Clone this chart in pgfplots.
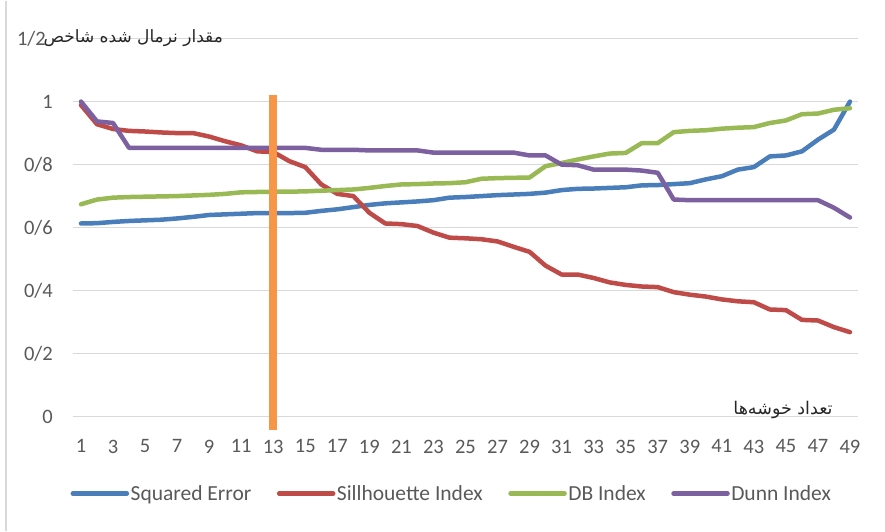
\documentclass[border=0pt]{standalone}
\usepackage{fontspec}
\setmainfont{Carlito}
\newfontfamily\arabicfont[Script=Arabic]{DejaVu Sans}
\TeXXeTstate=1
\usepackage{pgfplots}
\pgfplotsset{compat=1.18}
\usepackage{pgfplotstable}
\definecolor{cBlue}{HTML}{4A7EBB}
\definecolor{cRed}{HTML}{BE4B48}
\definecolor{cGreen}{HTML}{98B954}
\definecolor{cPurple}{HTML}{7D60A0}
\definecolor{cOrange}{HTML}{F79646}
\definecolor{gridgray}{HTML}{D9D9D9}
\definecolor{tickgray}{HTML}{595959}
\pgfplotstableread{
i se sil db dunn
1 0.613 0.989 0.674 1.000
2 0.614 0.928 0.689 0.937
3 0.618 0.913 0.695 0.932
4 0.621 0.907 0.697 0.853
5 0.623 0.905 0.698 0.853
6 0.625 0.902 0.699 0.853
7 0.629 0.900 0.700 0.853
8 0.634 0.900 0.702 0.853
9 0.640 0.889 0.704 0.853
10 0.642 0.874 0.707 0.853
11 0.644 0.861 0.712 0.853
12 0.646 0.842 0.713 0.853
13 0.646 0.840 0.714 0.853
14 0.646 0.811 0.714 0.853
15 0.647 0.792 0.715 0.853
16 0.653 0.737 0.717 0.847
17 0.658 0.707 0.719 0.847
18 0.665 0.700 0.721 0.847
19 0.672 0.647 0.726 0.845
20 0.677 0.613 0.732 0.845
21 0.680 0.611 0.737 0.845
22 0.683 0.605 0.738 0.845
23 0.687 0.584 0.740 0.838
24 0.695 0.568 0.741 0.838
25 0.697 0.566 0.744 0.838
26 0.700 0.563 0.755 0.838
27 0.703 0.556 0.757 0.838
28 0.705 0.539 0.758 0.838
29 0.707 0.523 0.759 0.829
30 0.711 0.479 0.795 0.829
31 0.719 0.451 0.805 0.800
32 0.723 0.451 0.816 0.798
33 0.724 0.440 0.826 0.784
34 0.726 0.426 0.835 0.784
35 0.728 0.418 0.837 0.784
36 0.734 0.413 0.868 0.781
37 0.735 0.411 0.868 0.774
38 0.738 0.395 0.903 0.689
39 0.741 0.387 0.907 0.687
40 0.753 0.381 0.909 0.687
41 0.763 0.372 0.914 0.687
42 0.784 0.366 0.917 0.687
43 0.792 0.363 0.919 0.687
44 0.826 0.340 0.932 0.687
45 0.829 0.338 0.940 0.687
46 0.842 0.307 0.960 0.687
47 0.879 0.305 0.962 0.687
48 0.911 0.284 0.974 0.663
49 1.000 0.268 0.979 0.632
}\data
\begin{document}
\begin{tikzpicture}
\begin{axis}[
  x=16.02pt, y=315pt,
  xmin=0.5, xmax=49.5, ymin=0, ymax=1.2,
  clip=false,
  axis line style={draw=none},
  ymajorgrids, major grid style={draw=gridgray, line width=1.2pt},
  major tick length=0pt,
  xtick={1,3,...,49},
  ytick={0,0.2,0.4,0.6,0.8,1,1.2},
  yticklabels={0,0/2,0/4,0/6,0/8,1,{1/2\kern7pt}},
  ticklabel style={font=\fontsize{20.5}{24}\selectfont, text=tickgray},
  /pgf/number format/assume math mode=true,
  xticklabel style={anchor=north, inner sep=0pt, yshift=-23pt},
  yticklabel style={anchor=east, inner sep=0pt, xshift=-20pt},
  legend style={draw=none, fill=none, at={(axis cs:24.13,-0.2444)}, anchor=center,
    font=\fontsize{21.5}{24}\selectfont, text=tickgray,
    nodes={inner sep=1.5pt},
    /tikz/every even column/.append style={column sep=24pt}},
  legend columns=4,
  legend image code/.code={\draw[#1, line cap=round] (0pt,0pt) -- (54pt,0pt);},
  every axis plot/.append style={line width=4.5pt, line join=round, line cap=round},
]
\path (axis cs:-4.056,1.3206) rectangle (axis cs:51.187,-0.3619);
\draw[gridgray, line width=1.2pt] (axis cs:-3.682,1.3206) -- (axis cs:-3.682,-0.3619);
\addplot[cBlue] table[x=i,y=se]{\data};
\addlegendentry{Squared Error}
\addplot[cRed] table[x=i,y=sil]{\data};
\addlegendentry{Sillhouette Index}
\addplot[cGreen] table[x=i,y=db]{\data};
\addlegendentry{DB Index}
\addplot[cPurple] table[x=i,y=dunn]{\data};
\addlegendentry{Dunn Index}
\addplot[forget plot, draw=cOrange, line width=8pt, line cap=butt] coordinates {(13,1.022) (13,-0.041)};
\node[anchor=east, inner sep=0pt, text=black!85, font=\arabicfont\fontsize{17}{20}\selectfont] at (axis cs:9.87,1.203) {\beginR مقدار نرمال شده شاخص\endR};
\node[anchor=center, inner sep=0pt, text=black!85, font=\arabicfont\fontsize{17.5}{20}\selectfont] at (axis cs:44.82,0.020) {\beginR تعداد خوشه‌ها\endR};
\end{axis}
\end{tikzpicture}
\end{document}
